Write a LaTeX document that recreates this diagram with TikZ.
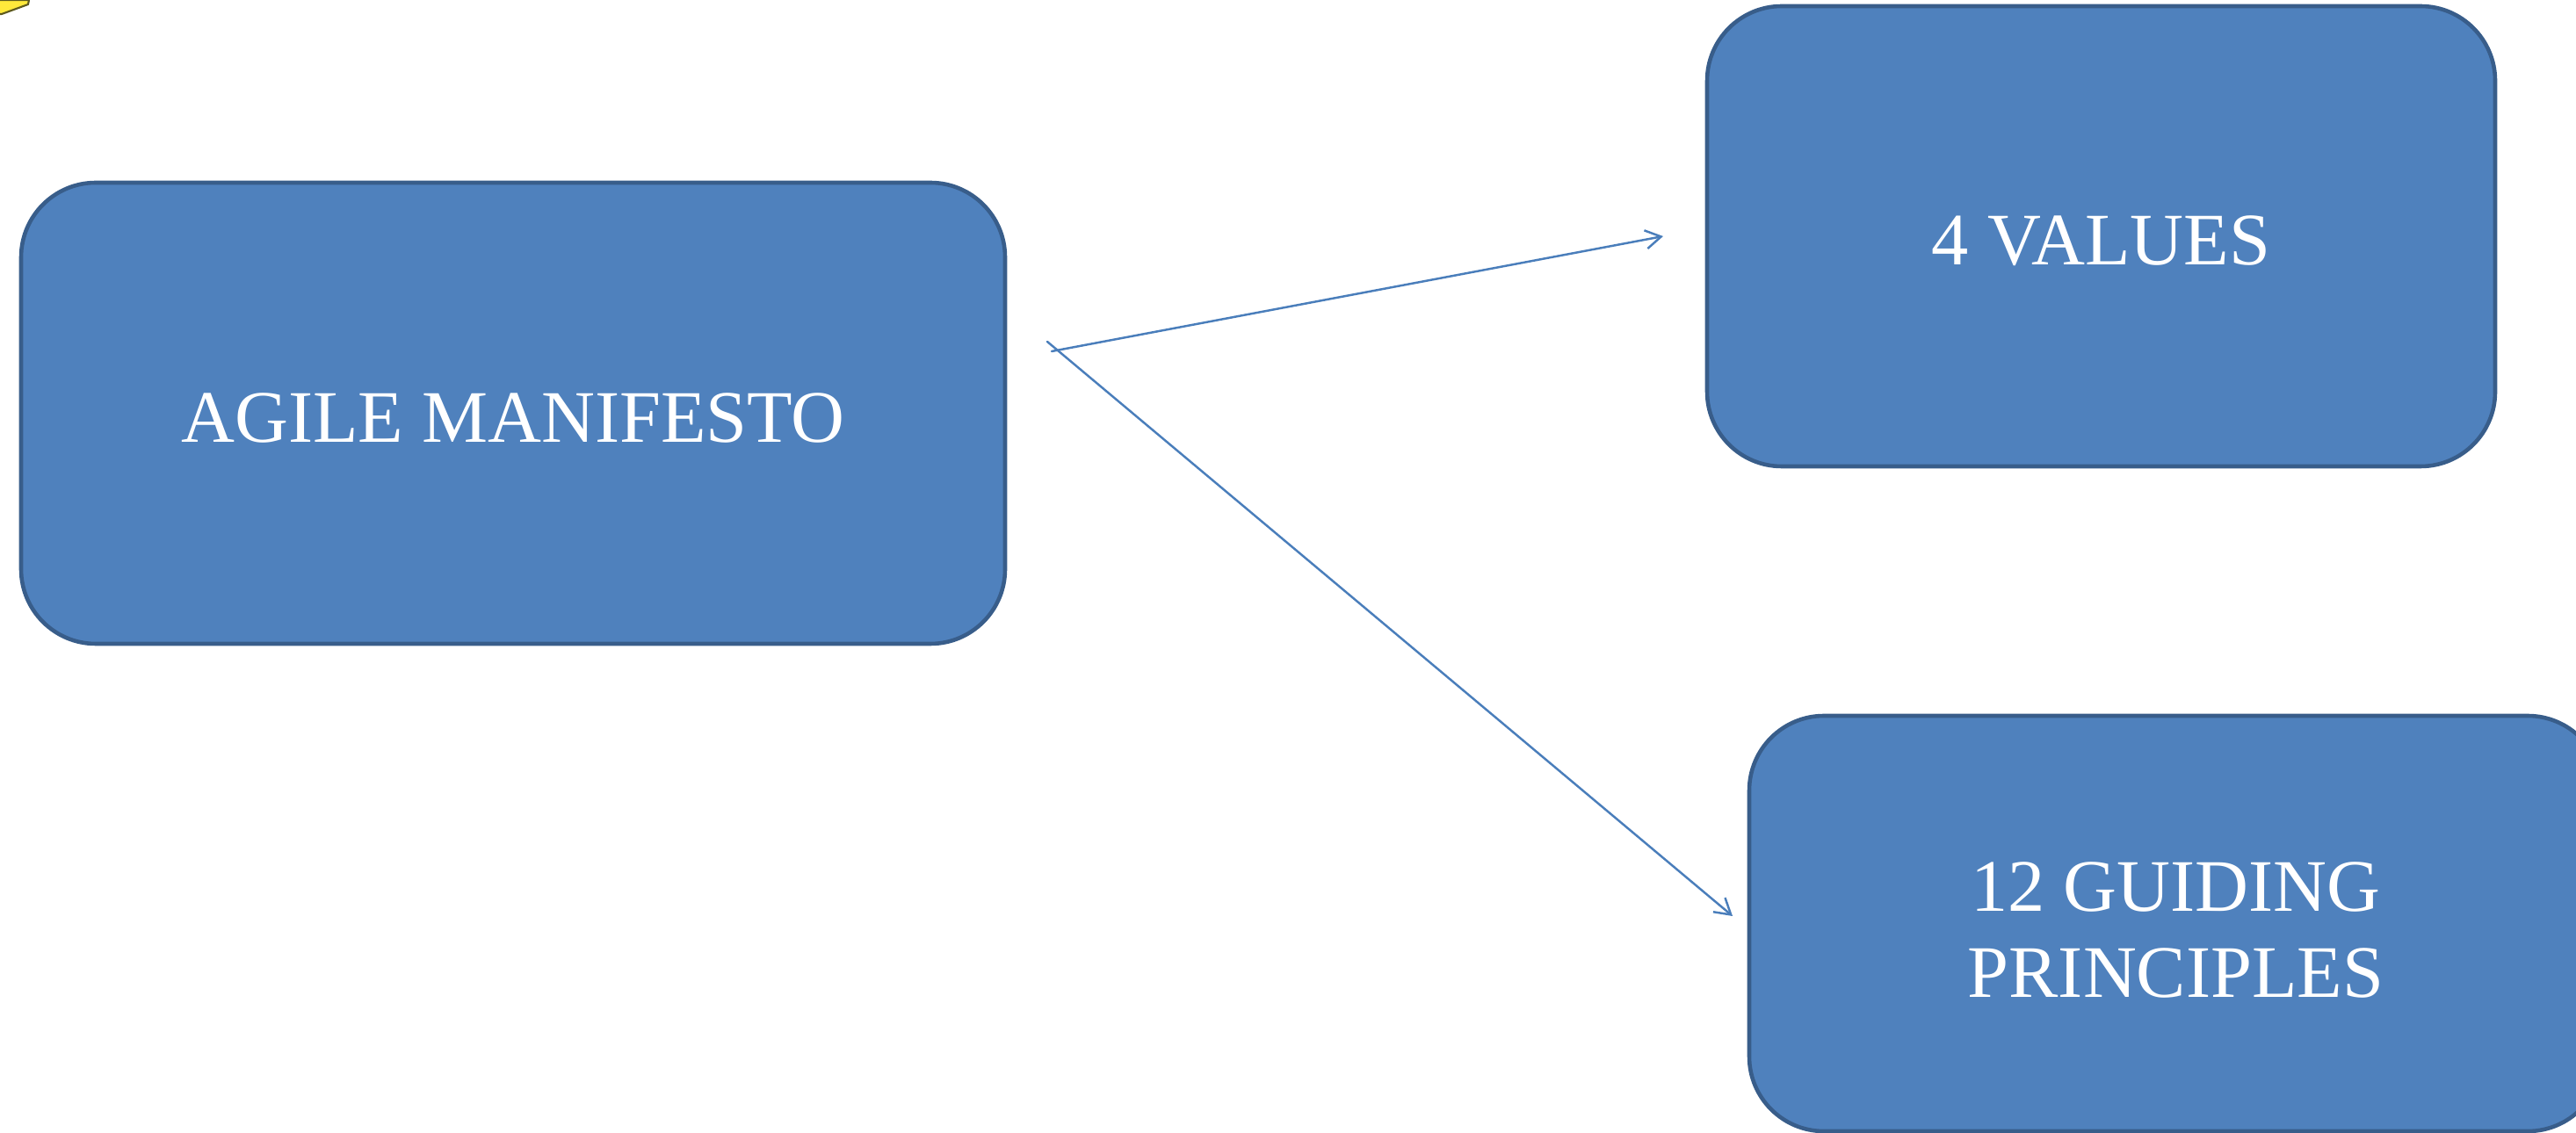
\documentclass[tikz,border=0pt]{standalone}
\usepackage{fontspec}
\setmainfont{Liberation Serif}
\usepackage{tikz}
\usetikzlibrary{arrows.meta}
\usetikzlibrary{positioning}
\definecolor{boxfill}{HTML}{4F81BD}
\definecolor{boxline}{HTML}{385D8A}
\definecolor{linkblue}{HTML}{4A7EBB}
\definecolor{notefill}{HTML}{FFE93B}
\definecolor{noteline}{HTML}{5E5A1E}

\begin{document}
\begin{tikzpicture}[line cap=round,line join=round,x=1cm,y=1cm,
  box/.style={rectangle,rounded corners=0.85cm,fill=boxfill,draw=boxline,line width=1.3pt,
    text=white,align=center,font=\fontsize{24}{28}\selectfont},
  link/.style={draw=linkblue,line width=0.7pt,-{Straight Barb[length=5pt,width=6pt]}}]
\useasboundingbox (0,0) rectangle (29.32,12.90);
\fill [color=notefill,draw=noteline,line width=0.6pt] (0,12.90)-- (0.33,12.90)-- (0.32,12.85)-- (0.02,12.74)-- (0,12.74);
\node [box,minimum width=11.2cm,minimum height=5.25cm] (agile) at (5.84,8.195) {\rule{0pt}{19pt}AGILE MANIFESTO};
\node [box,minimum width=8.97cm,minimum height=5.24cm] (values) at (23.915,10.21) {\rule{0pt}{19pt}4 VALUES};
\node [box,minimum width=9.71cm,minimum height=4.73cm] (principles) at (24.765,2.385) {\rule{0pt}{20pt}12 GUIDING\\PRINCIPLES};
\coordinate (valuesfrom) at (11.97,8.90);
\coordinate (valuesto) at (18.93,10.21);
\coordinate (principlesfrom) at (11.92,9.01);
\coordinate (principlesto) at (19.72,2.47);
\draw [link] (valuesfrom)-- (valuesto);
\draw [link] (principlesfrom)-- (principlesto);
\end{tikzpicture}
\end{document}
